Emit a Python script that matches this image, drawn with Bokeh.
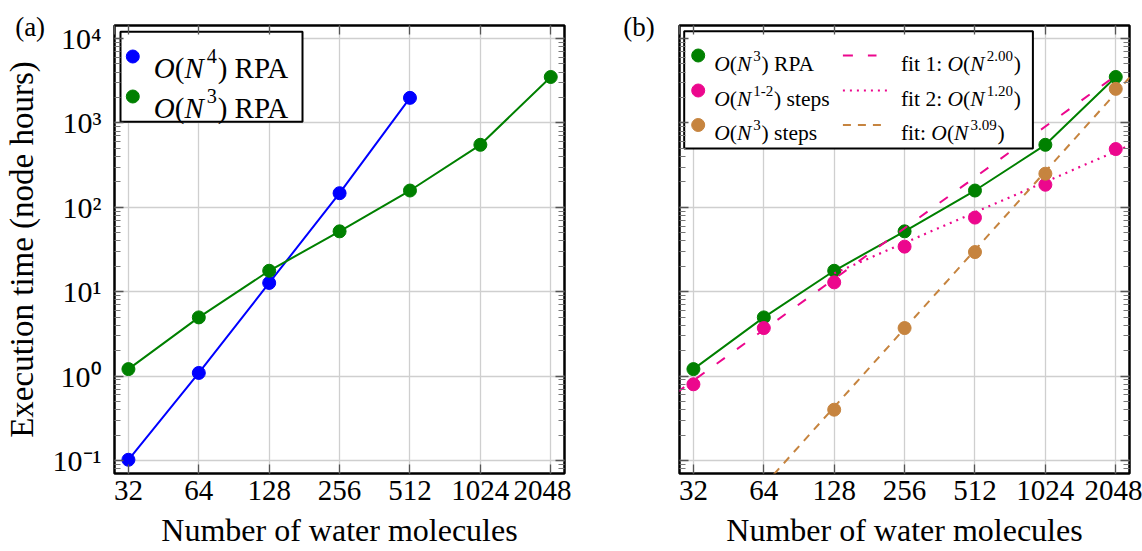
import math
from bokeh.plotting import figure
from bokeh.models import Range1d, FixedTicker, LogAxis, CustomJSTickFormatter, Label
from bokeh.layouts import row
from bokeh.embed import file_html
from bokeh.resources import INLINE

# ---------------- data ----------------
water_molecules = [32, 64, 128, 256, 512, 1024, 2048]
x_tick_labels = ["32", "64", "128", "256", "512", "1024", "2048"]

rpa_n4_n = [32, 64, 128, 256, 512]
rpa_n4_time = [0.102, 1.09, 12.7, 147, 1980]

rpa_n3_n = [32, 64, 128, 256, 512, 1024, 2048]
rpa_n3_time = [1.21, 4.96, 17.7, 51.9, 158, 550, 3500]

steps_n12_n = [32, 64, 128, 256, 512, 1024, 2048]
steps_n12_time = [0.80, 3.71, 12.9, 34.2, 75.5, 185, 490]

steps_n3_n = [128, 256, 512, 1024, 2048]
steps_n3_time = [0.40, 3.71, 29.5, 250, 2530]

fit1_n = [27, 2048]
fit1_time = [0.63, 3625]
fit2_n = [128, 2400]
fit2_time = [16.5, 556]
fit3_n = [64, 2400]
fit3_time = [0.0505, 3690]

y_major = [0.1, 1, 10, 100, 1000, 10000]
y_tick_labels = ["10\u207b\u00b9", "10\u2070", "10\u00b9", "10\u00b2", "10\u00b3", "10\u2074"]
panel_tags = ["(a)", "(b)"]

# ---------------- style ----------------
FONT = "Liberation Serif"
BLUE = "#0000ff"
GREEN = "#008000"
PINK = "#ec078d"
BROWN = "#c6843f"
X_RANGE = (27.9, 2345.0)
Y_RANGE = (10 ** -1.154, 10 ** 4.154)
FW, FH = 450.0, 448.0
LX0, LX1 = math.log10(X_RANGE[0]), math.log10(X_RANGE[1])
LY0, LY1 = math.log10(Y_RANGE[0]), math.log10(Y_RANGE[1])
NBSP = "\u00a0"


def dx(px):
    """screen px from frame left -> data x"""
    return 10 ** (LX0 + px / FW * (LX1 - LX0))


def dy(py):
    """screen px from frame top -> data y"""
    return 10 ** (LY1 - py / FH * (LY1 - LY0))


y_minor = [m * 10 ** k for k in range(-2, 5) for m in range(2, 10)]

W_REG = {' ': 250, '(': 333, ')': 333, '-': 333, '.': 250, ':': 278, '0': 500, '1': 500,
         '2': 500, '3': 500, '4': 500, '9': 500, 'R': 667, 'P': 556, 'A': 722, 's': 389,
         't': 278, 'e': 444, 'p': 500, 'f': 333, 'i': 278}
W_IT = {'O': 722, 'N': 667}


def rich(p, px, py, pieces, size):
    x = px
    for txt, kind in pieces:
        if kind == 'gap':
            x += txt * size
            continue
        if kind == 'sup':
            fs, rise, style = size * 0.7, size * 0.38, 'normal'
            w = sum(W_REG[c] for c in txt) / 1000 * fs
        elif kind == 'it':
            fs, rise, style = size, 0, 'italic'
            w = sum(W_IT[c] for c in txt) / 1000 * fs
        else:
            fs, rise, style = size, 0, 'normal'
            w = sum(W_REG[c] for c in txt) / 1000 * fs
        p.add_layout(Label(x=dx(x), y=dy(py - rise), text=txt, text_font=FONT,
                           text_font_size=f"{fs:.1f}px", text_font_style=style,
                           text_color="black", text_baseline="alphabetic", text_align="left"))
        x += w


def o_n(exp, tail):
    return [("O", "it"), ("(", "reg"), ("N", "it"), (0.1, "gap"), (exp, "sup"),
            (0.03, "gap"), (")", "reg")] + tail


def style_axis(ax):
    ax.axis_line_color = None
    ax.major_tick_in = 9
    ax.major_tick_out = 0
    ax.minor_tick_in = 6
    ax.minor_tick_out = 0
    ax.major_tick_line_color = "#555555"
    ax.minor_tick_line_color = "#777777"
    ax.major_tick_line_width = 1.3
    ax.minor_tick_line_width = 1.2
    ax.major_label_text_font = FONT
    ax.major_label_text_font_size = "29px"
    ax.major_label_text_color = "black"
    ax.axis_label_text_font = FONT
    ax.axis_label_text_font_size = "32px"
    ax.axis_label_text_font_style = "normal"
    ax.axis_label_text_color = "black"


def make_fig(bl, br, show_ylabels, tag, n_pad):
    p = figure(width=int(bl + FW + br), height=551, x_axis_type="log", y_axis_type="log",
               x_range=Range1d(*X_RANGE), y_range=Range1d(*Y_RANGE),
               output_backend="svg", toolbar_location=None,
               min_border_left=bl, min_border_right=br, min_border_top=25, min_border_bottom=78)
    p.outline_line_color = "black"
    p.outline_line_width = 2.5
    p.background_fill_color = "white"
    p.border_fill_color = "white"

    xfmt = CustomJSTickFormatter(args=dict(vals=water_molecules, labs=x_tick_labels), code="""
        for (let i = 0; i < vals.length; i++) { if (Math.abs(tick - vals[i]) < 1e-6) return labs[i]; }
        return "";""")
    empty = CustomJSTickFormatter(code="return '';")

    xa = p.xaxis[0]
    xa.ticker = FixedTicker(ticks=water_molecules)
    xa.formatter = xfmt
    style_axis(xa)
    xa.major_label_standoff = 7
    xa.axis_label = "Number of water molecules"
    xa.axis_label_standoff = 9

    ya = p.yaxis[0]
    style_axis(ya)
    ya.ticker = FixedTicker(ticks=y_major, minor_ticks=y_minor)
    if show_ylabels:
        ya.formatter = CustomJSTickFormatter(args=dict(vals=y_major, labs=y_tick_labels), code="""
            for (let i = 0; i < vals.length; i++) {
                if (Math.abs(Math.log10(tick) - Math.log10(vals[i])) < 1e-6) return labs[i]; }
            return "";""")
        ya.major_label_text_font_size = "30px"
        ya.major_label_standoff = 13
        ya.axis_label = "Execution time (node hours)"
        ya.axis_label_text_font_size = "33px"
        ya.axis_label_standoff = 10
    else:
        ya.formatter = empty
        ya.major_label_standoff = 0

    # top axis: ticks only, plus the panel tag hung at the frame's left corner
    tag_x = X_RANGE[0] * 1.0000001
    top = LogAxis(ticker=FixedTicker(ticks=water_molecules + [tag_x]),
                  formatter=CustomJSTickFormatter(args=dict(tx=tag_x, tag=tag + NBSP * n_pad), code="""
                      if (Math.abs(Math.log10(tick) - Math.log10(tx)) < 1e-6) return tag;
                      return "";"""))
    style_axis(top)
    top.major_label_text_font_size = "27px"
    top.major_label_standoff = -16
    p.add_layout(top, "above")
    right = LogAxis(ticker=FixedTicker(ticks=y_major, minor_ticks=y_minor), formatter=empty)
    style_axis(right)
    right.major_label_standoff = 0
    p.add_layout(right, "right")

    p.xgrid.ticker = FixedTicker(ticks=water_molecules)
    p.ygrid.ticker = FixedTicker(ticks=y_major)
    for g in (p.xgrid, p.ygrid):
        g.grid_line_color = "#cfcfcf"
        g.grid_line_width = 1.3
    return p


MS = 13

# ---------------- panel (a) ----------------
pa = make_fig(114, 7, True, panel_tags[0], 25)
pa.line(rpa_n4_n, rpa_n4_time, line_color=BLUE, line_width=2)
pa.scatter(rpa_n4_n, rpa_n4_time, size=MS, color=BLUE)
pa.line(rpa_n3_n, rpa_n3_time, line_color=GREEN, line_width=2)
pa.scatter(rpa_n3_n, rpa_n3_time, size=MS, color=GREEN)

pa.quad(left=[dx(6)], right=[dx(188)], top=[dy(6.3)], bottom=[dy(96.3)],
        fill_color="white", line_color="black", line_width=2)
pa.scatter([dx(18.3)], [dy(31)], size=MS, color=BLUE)
pa.scatter([dx(18.3)], [dy(71)], size=MS, color=GREEN)
LA = 29
rich(pa, 39.3, 42, o_n("4", [(0.25, "gap"), ("RPA", "reg")]), LA)
rich(pa, 39.3, 82, o_n("3", [(0.25, "gap"), ("RPA", "reg")]), LA)

# ---------------- panel (b) ----------------
pb = make_fig(108, 13, False, panel_tags[1], 12)
pb.line(rpa_n3_n, rpa_n3_time, line_color=GREEN, line_width=2)
pb.scatter(rpa_n3_n, rpa_n3_time, size=MS, color=GREEN)
pb.line(fit1_n, fit1_time, line_color=PINK, line_width=2, line_dash="10 15")
pb.scatter(steps_n12_n, steps_n12_time, size=MS, color=PINK)
pb.line(fit2_n, fit2_time, line_color=PINK, line_width=2.2, line_dash="2 5")
pb.scatter(steps_n3_n, steps_n3_time, size=MS, color=BROWN)
pb.line(fit3_n, fit3_time, line_color=BROWN, line_width=2, line_dash="8 7")

pb.quad(left=[dx(4.7)], right=[dx(353.4)], top=[dy(5.7)], bottom=[dy(123)],
        fill_color="white", line_color="black", line_width=2)
rows_py = [30, 65, 99.5]
pb.scatter([dx(18.7)], [dy(rows_py[0])], size=MS, color=GREEN)
pb.scatter([dx(18.7)], [dy(rows_py[1])], size=MS, color=PINK)
pb.scatter([dx(18.7)], [dy(rows_py[2])], size=MS, color=BROWN)
pb.line([dx(163.4), dx(197)], [dy(rows_py[0])] * 2, line_color=PINK, line_width=2, line_dash="10 15")
pb.line([dx(163.4), dx(208)], [dy(rows_py[1])] * 2, line_color=PINK, line_width=2.2, line_dash="2 5")
pb.line([dx(163.4), dx(205)], [dy(rows_py[2])] * 2, line_color=BROWN, line_width=2, line_dash="8 7")
LB = 21.5
base = [r + 8.3 for r in rows_py]
rich(pb, 34.7, base[0], o_n("3", [(0.25, "gap"), ("RPA", "reg")]), LB)
rich(pb, 34.7, base[1], o_n("1-2", [(0.25, "gap"), ("steps", "reg")]), LB)
rich(pb, 34.7, base[2], o_n("3", [(0.25, "gap"), ("steps", "reg")]), LB)
rich(pb, 221.4, base[0], [("fit 1:", "reg"), (0.25, "gap")] + o_n("2.00", []), LB)
rich(pb, 221.4, base[1], [("fit 2:", "reg"), (0.25, "gap")] + o_n("1.20", []), LB)
rich(pb, 221.4, base[2], [("fit:", "reg"), (0.25, "gap")] + o_n("3.09", []), LB)

layout = row(pa, pb)
open("out.html", "w").write(file_html(layout, INLINE))
